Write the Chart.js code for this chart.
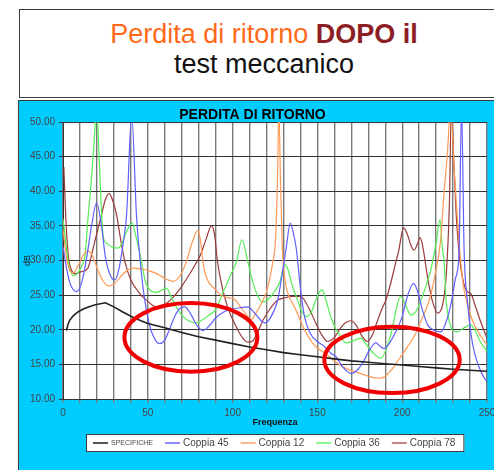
<!DOCTYPE html>
<html>
<head>
<meta charset="utf-8">
<script src="https://cdn.jsdelivr.net/npm/chart.js@4.4.1/dist/chart.umd.min.js"></script>
<style>
    body { margin: 0; width: 494px; height: 470px; overflow: hidden; background: #fff; position: relative;
           font-family: "Liberation Sans", Arial, sans-serif; }
    #head { position: absolute; left: 19px; top: 9px; width: 488px; height: 87px; border: 1px solid #3a3a3a; }
    .line { position: absolute; left: 0; width: 488px; text-align: center; font-size: 27px; line-height: 30px; white-space: nowrap; }
    #l1 { top: 9px; color: #ff6a1a; }
    #l1 b { color: #8c1e24; }
    #l2 { top: 39px; color: #111; }
    #panel { position: absolute; left: 18px; top: 100px; width: 476px; height: 370px; }
</style>
</head>
<body>
<div id="head">
    <div class="line" id="l1">Perdita di ritorno <b>DOPO il</b></div>
    <div class="line" id="l2">test meccanico</div>
</div>
<div id="panel"><canvas id="rlChart" width="476" height="370"></canvas></div>
<script>
// values (x = frequency, y = dB)
const specX = [2, 3, 4, 6, 9, 12, 15, 19, 25, 30, 35, 42, 50, 60, 70, 80, 90, 100, 110, 120, 130, 140, 150, 160, 170, 180, 190, 200, 210, 220, 230, 240, 250];
const specY = [19.9, 20.8, 21.4, 22.0, 22.6, 23.0, 23.3, 23.6, 23.9, 23.3, 22.6, 21.7, 20.9, 20.3, 19.6, 19.0, 18.5, 18.0, 17.5, 17.1, 16.7, 16.4, 16.1, 15.8, 15.5, 15.3, 15.1, 14.9, 14.7, 14.5, 14.3, 14.15, 14.0];

const c45X = [0, 2, 4, 8, 11, 14, 16.9, 19.8, 22.7, 25, 28, 30.6, 33, 35.5, 37.5, 40.5, 43.3, 45.5, 47.5, 50, 53, 57, 60, 63, 66, 69, 71.8, 75, 79, 82.5, 86, 90, 95, 100, 105, 109, 113, 118.8, 122, 126.6, 129.5, 131.6, 134, 135.8, 137.5, 140, 142.4, 146, 150, 154, 158, 161, 165, 169.8, 174, 178, 181, 184.5, 187, 189.4, 192, 196, 200, 203, 206.7, 209, 212, 215, 219, 222.8, 226, 229, 231.5, 233.5, 235, 236.5, 238.5, 240.5, 242.5, 245, 248, 250];
const c45Y = [32, 29, 26.8, 25.5, 26.8, 30.5, 35.1, 38.3, 35, 30.5, 27.8, 27.2, 28.8, 32.5, 36.6, 51, 36.6, 30, 25.5, 21.8, 19.2, 18, 18.5, 20.2, 22, 23.1, 23.3, 22.4, 20.6, 19.9, 20.5, 21.7, 22.6, 23, 23.2, 23.3, 22.4, 21, 21.6, 24.3, 28.5, 31.8, 35.4, 34, 31.8, 26, 21.9, 19.4, 18.3, 17.6, 16.6, 16.1, 14.6, 13.7, 14.3, 15.8, 17.2, 18.1, 17.6, 17.3, 17.9, 19.6, 21.9, 24.8, 26.7, 25.6, 22.8, 20.7, 19.9, 19.7, 21.2, 24, 27.5, 31, 52, 31.5, 24, 19.5, 16.8, 14.8, 13.2, 12.5];

const c12X = [0, 2, 4, 6, 8, 10, 12.5, 15, 17.5, 20, 23, 27, 31, 36, 41, 46, 51, 56, 61, 65, 69, 72.7, 76, 79.5, 81, 82.5, 85, 90, 93, 98, 101, 105, 108, 111, 114, 117, 120, 122, 123.7, 125.3, 126.5, 127.3, 128.2, 129.3, 131, 133, 136.5, 142.4, 148, 154, 159, 164, 168.8, 174, 180, 186, 190, 194, 198, 203, 208, 212, 216, 219, 222.7, 224.7, 226.5, 228.6, 230.6, 232, 233.5, 236, 239, 242, 246, 250];
const c12Y = [34.5, 30.5, 28.6, 28.2, 28.8, 29.8, 31, 31.4, 30.6, 29, 27.3, 26.3, 26.8, 28.2, 28.9, 28.8, 28.5, 28, 27.3, 27, 27.8, 29.8, 32.5, 34.3, 33, 29.8, 27.3, 25.8, 25, 24.6, 24.4, 23.2, 22.2, 21.5, 22.5, 23.8, 25.5, 27.5, 29.8, 33, 42, 52, 42, 32, 27, 25, 23.3, 20, 17.8, 16.7, 15.7, 14.8, 14.2, 13.8, 13.3, 13.0, 13.3, 14.3, 15.7, 17.5, 19.5, 21.8, 24.3, 27.5, 33, 39.9, 45, 52, 43.3, 38, 32.7, 26.5, 23.2, 21, 19.2, 17.8];

const c36X = [0, 1.5, 3, 6, 9, 11, 13, 14.9, 16.5, 18.3, 19.8, 21.3, 22.5, 23.7, 26, 29.5, 32.5, 35, 37.5, 40.8, 43, 46.3, 48.5, 51, 55, 58, 61, 64, 67.5, 70.8, 75, 78.6, 82, 86, 90, 93.3, 96, 99, 102.2, 105.5, 109, 112, 115, 117.8, 121, 125, 128, 130.6, 132.5, 135, 138, 140.5, 143.3, 146.5, 149.5, 152.7, 155, 158, 160.5, 163, 167, 171, 175.7, 179, 183, 187.5, 191, 194, 196.5, 199, 202, 205, 208, 211, 214, 217, 220, 222.3, 223.6, 224.7, 226, 228, 230, 232.5, 236, 240.4, 243, 246, 250];
const c36Y = [36, 33, 30, 27.8, 28.3, 29.2, 30.8, 36.6, 41, 47, 52, 45, 38, 33.5, 32.4, 31.9, 31.8, 32.6, 34.2, 35.4, 33.5, 29.8, 27, 25.8, 25.4, 25.7, 26, 24.6, 23, 21.9, 21.2, 21, 21.4, 22.1, 22.9, 24.8, 26.3, 28, 29.8, 33, 29.8, 26.8, 24.8, 24, 24.4, 25.6, 27, 29.4, 28.8, 26.5, 24.5, 22.8, 21.9, 22.6, 24.6, 25.8, 24.3, 21.8, 20.3, 19.3, 18.1, 18.4, 18.8, 17.8, 16.6, 15.9, 17.5, 20, 23, 24.8, 23.6, 22.1, 22.6, 24.2, 26.3, 28.8, 32.5, 35.9, 32, 29.8, 24, 21, 19.9, 19.7, 20.2, 20.7, 19.9, 18.3, 16.9];

const c78X = [0.5, 1.5, 3, 5, 7, 11, 14.7, 17.8, 20, 22.7, 25, 27.2, 29.5, 31.6, 34, 36.5, 40, 45, 50, 53, 57, 61, 65, 69, 73, 77, 81, 84, 87.6, 89.5, 91, 94, 97, 100, 103, 106, 109, 112, 115, 118, 122, 126, 130.6, 135, 140.4, 143, 146, 149, 152, 156, 160, 163.5, 166.5, 169.8, 173, 176.5, 179.6, 182.5, 185, 188, 190.4, 193, 196, 198, 200.8, 203, 205, 207, 209, 210.6, 212.5, 215, 218, 221, 224, 226, 227.8, 229, 230.5, 232, 234, 236, 238.4, 240.5, 243, 246.5, 250];
const c78Y = [43.5, 37, 31, 28.6, 28.1, 28.4, 28.9, 31.8, 34, 36.6, 38.8, 39.7, 38.5, 36.6, 33, 29.8, 27.2, 25.3, 24.1, 23.5, 23.2, 23.8, 24.7, 25.9, 27.4, 29, 30.8, 32.8, 35, 33.5, 30, 26, 23.3, 21.5, 20, 18.8, 18.2, 18.4, 19.8, 21.4, 23, 24.2, 24.6, 24.8, 24.8, 24, 22.6, 21, 19.5, 18.3, 18.9, 20.2, 21, 21.3, 20.6, 19, 18.3, 19.3, 21, 23, 24.3, 26.5, 29.5, 31.5, 34.7, 33.8, 32.3, 31.5, 32.4, 33.3, 31.5, 27.5, 24, 22.4, 23.8, 28, 38, 52, 44, 36, 30, 27, 25.5, 25.2, 23.5, 21, 18.8];

// red ellipses drawn over the plot: centre and radii in data units
const ellipses = [
    { x: 75.4, y: 18.9, rx: 39.2, ry: 4.95 },
    { x: 194, y: 15.65, rx: 39.9, ry: 4.8 }
];

const toPoints = (xs, ys) => xs.map((x, i) => ({ x: x, y: ys[i] }));

const FONT = '"Liberation Sans", Arial, sans-serif';
Chart.defaults.font.family = FONT;

// blue panel, white plot area
const panelBg = {
    id: 'panelBg',
    beforeDraw(chart) {
        const { ctx, chartArea: ca, width, height } = chart;
        ctx.save();
        ctx.fillStyle = '#00ccff';
        ctx.fillRect(0, 0, width, height);
        ctx.strokeStyle = '#3a3a3a';
        ctx.lineWidth = 1;
        ctx.beginPath();
        ctx.moveTo(0.5, height);
        ctx.lineTo(0.5, 0.5);
        ctx.lineTo(width, 0.5);
        ctx.stroke();
        ctx.fillStyle = '#fff';
        ctx.fillRect(ca.left, ca.top, ca.right - ca.left, ca.bottom - ca.top);
        ctx.restore();
    }
};

// the red hand-drawn ellipses
const redEllipses = {
    id: 'redEllipses',
    afterDatasetsDraw(chart) {
        const { ctx, scales: { x, y } } = chart;
        ctx.save();
        ctx.strokeStyle = '#f00000';
        ctx.lineWidth = 4;
        ellipses.forEach(e => {
            const cx = x.getPixelForValue(e.x);
            const cy = y.getPixelForValue(e.y);
            const rx = x.getPixelForValue(e.x + e.rx) - cx;
            const ry = cy - y.getPixelForValue(e.y + e.ry);
            ctx.beginPath();
            ctx.ellipse(cx, cy, rx, ry, 0, 0, Math.PI * 2);
            ctx.stroke();
        });
        ctx.restore();
    }
};

// boxed legend under the axis title
const boxLegend = {
    id: 'boxLegend',
    afterDraw(chart) {
        const { ctx, chartArea: ca } = chart;
        const sets = chart.data.datasets;
        const fonts = sets.map((d, i) => (i === 0 ? '7px ' : '10px ') + FONT);
        ctx.save();
        const widths = sets.map((d, i) => {
            ctx.font = fonts[i];
            return 18 + ctx.measureText(d.label).width;
        });
        const gap = 12;
        const total = widths.reduce((a, b) => a + b, 0) + gap * (sets.length - 1) + 16;
        const x0 = Math.round((ca.left + ca.right) / 2 - total / 2);
        const y0 = chart.height - 36;
        const h = 18;
        ctx.fillStyle = '#fff';
        ctx.fillRect(x0, y0, total, h);
        ctx.strokeStyle = '#3a3a3a';
        ctx.lineWidth = 1;
        ctx.strokeRect(x0 + 0.5, y0 + 0.5, total - 1, h - 1);
        let x = x0 + 7;
        const midY = y0 + h / 2;
        sets.forEach((d, i) => {
            ctx.strokeStyle = d.legendColor;
            ctx.lineWidth = 2;
            ctx.beginPath();
            ctx.moveTo(x, midY);
            ctx.lineTo(x + 15, midY);
            ctx.stroke();
            ctx.font = fonts[i];
            ctx.fillStyle = '#444';
            ctx.textBaseline = 'middle';
            ctx.fillText(d.label, x + 18, midY + 0.5);
            x += widths[i] + gap;
        });
        ctx.restore();
    }
};

const line = (label, xs, ys, color, legendColor, width) => ({
    label: label,
    data: toPoints(xs, ys),
    borderColor: color,
    legendColor: legendColor,
    borderWidth: width,
    pointRadius: 0,
    fill: false,
    cubicInterpolationMode: 'monotone'
});

const ctx = document.getElementById('rlChart').getContext('2d');
const rlChart = new Chart(ctx, {
    type: 'line',
    data: {
        datasets: [
            Object.assign(line('SPECIFICHE', specX, specY, '#222', '#555', 1.6), { cubicInterpolationMode: 'default', tension: 0 }),
            line('Coppia 45', c45X, c45Y, '#6060ff', '#8c8cff', 1.2),
            line('Coppia 12', c12X, c12Y, '#ff9a55', '#ffb88a', 1.2),
            line('Coppia 36', c36X, c36Y, '#55ee55', '#8cf58c', 1.2),
            line('Coppia 78', c78X, c78Y, '#9a3a3a', '#c98585', 1.2)
        ]
    },
    options: {
        responsive: false,
        animation: false,
        devicePixelRatio: 1,
        layout: { padding: { left: 0, right: 7, top: 0, bottom: 41 } },
        plugins: {
            legend: { display: false },
            tooltip: { enabled: false },
            title: {
                display: true,
                text: 'PERDITA DI RITORNO',
                color: '#000',
                font: { size: 14, weight: 'bold', lineHeight: 1 },
                padding: { top: 8, bottom: 0 }
            }
        },
        scales: {
            x: {
                type: 'linear',
                min: 0,
                max: 250,
                afterFit: scale => {
                    scale.height = 30;
                    scale.paddingLeft = 0;
                    scale.paddingRight = 0;
                },
                ticks: {
                    stepSize: 10,
                    autoSkip: false,
                    maxRotation: 0,
                    padding: 4,
                    color: '#444',
                    font: { size: 10 },
                    callback: v => (v % 50 === 0 ? v : '')
                },
                grid: { color: '#7a7a7a', lineWidth: 1.4, tickLength: 4 },
                border: { color: '#333', width: 1 },
                title: {
                    display: true,
                    text: 'Frequenza',
                    color: '#111',
                    font: { size: 9, weight: 'bold', lineHeight: 1.2 },
                    padding: { top: 0, bottom: 0.6 }
                }
            },
            y: {
                min: 10,
                max: 50,
                afterFit: scale => { scale.width = 45; },
                ticks: {
                    stepSize: 5,
                    padding: 4,
                    color: '#444',
                    font: { size: 10 },
                    callback: v => v.toFixed(2)
                },
                grid: { color: '#333', lineWidth: 1, tickLength: 4 },
                border: { color: '#333', width: 1 },
                title: {
                    display: true,
                    text: 'dB',
                    color: '#222',
                    font: { size: 9, lineHeight: 1.2 },
                    padding: { top: 4.6, bottom: 0 }
                }
            }
        }
    },
    plugins: [panelBg, redEllipses, boxLegend]
});
</script>
</body>
</html>
